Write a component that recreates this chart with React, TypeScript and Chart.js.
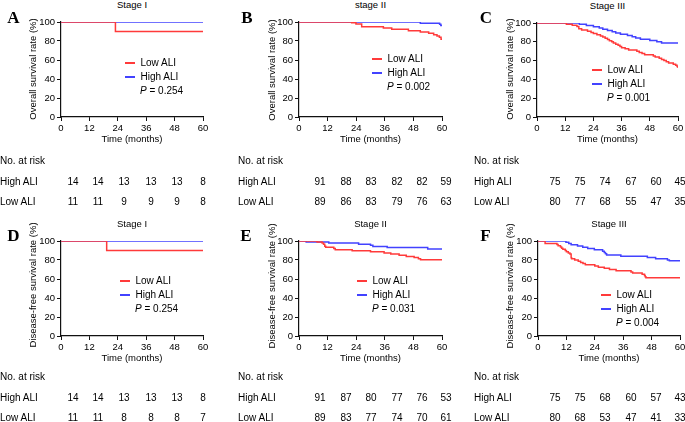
import React, { useEffect, useRef } from "react";
import { Chart, registerables } from "chart.js";

Chart.register(...registerables);

const FONT = "'Liberation Sans', Arial, Helvetica, sans-serif";
const TABLE_FONT = "'Liberation Sans Narrow', 'Liberation Sans', Arial, sans-serif";
const SERIF = "'Liberation Serif', 'Times New Roman', serif";
const RED = "#ff3a3a";
const BLUE = "#4242ff";

// ---- axis ticks ----
const monthTicks = [0, 12, 24, 36, 48, 60];
const rateTicks = [0, 20, 40, 60, 80, 100];
const riskLabels = ["No. at risk", "High ALI", "Low ALI"];

// ---- Kaplan–Meier steps: [month, survival %] ----
const osStageILow = [[0, 100], [23, 90], [60, 90]];
const osStageIHigh = [[0, 100], [60, 100]];

const osStageIILow = [[0, 100], [22.1, 99.3], [23.9, 97.9], [26.3, 95.0], [35.4, 93.7], [38.9, 92.3], [45.9, 90.9], [50.9, 89.5], [54.4, 88.1], [56.5, 86.7], [57.9, 85.3], [58.9, 83.9], [59.6, 81.8], [60, 81.8]];
const osStageIIHigh = [[0, 100], [50.9, 98.8], [59, 97.6], [59.5, 96.4], [60, 96.4]];

const osStageIIILow = [[0, 100], [12.5, 98.8], [15, 97.5], [17, 96.3], [17.8, 93.8], [19, 92.5], [21.5, 91.2], [23, 90], [24, 88.7], [25.5, 87.5], [27, 86.2], [28, 85], [29, 83.7], [30, 82.5], [30.8, 81.2], [31.8, 80], [32.5, 78.7], [33.5, 77.5], [34.5, 76.2], [35.3, 75], [36, 73.7], [37.5, 72.5], [39, 71.2], [42.5, 70], [43.5, 68.7], [44.7, 67.5], [45.8, 66.2], [49.5, 65], [50.3, 63.7], [52, 62.5], [53, 61.2], [54, 60], [55, 58.7], [56, 57.5], [58, 56.2], [59, 55], [59.6, 53.7], [60, 52.2]];
const osStageIIIHigh = [[0, 100], [18, 98.7], [21, 97.3], [24, 96.0], [26.5, 94.7], [28, 93.3], [30, 92.0], [32, 90.7], [33.5, 89.3], [35.5, 88.0], [38.5, 86.7], [40.5, 85.3], [42, 84.0], [44, 82.7], [48, 81.3], [51, 80.0], [53, 78.7], [60, 78.7]];

const dfsStageILow = [[0, 100], [19.3, 90], [60, 90]];
const dfsStageIHigh = [[0, 100], [60, 100]];

const dfsStageIILow = [[0, 100], [7.6, 98.9], [9.7, 97.8], [10.3, 96.6], [10.8, 94.4], [11.2, 93.3], [14.6, 92.1], [15.2, 90.9], [22.3, 89.8], [30, 88.6], [35.7, 87.4], [38.5, 86.2], [42, 85.0], [45, 83.8], [48.3, 82.6], [50.1, 81.4], [51, 80.3], [60, 80.3]];
const dfsStageIIHigh = [[0, 100], [3, 98.9], [12.5, 97.8], [25, 96.6], [30, 95.4], [31, 94.3], [37, 93.1], [54, 91.5], [60, 91.5]];

const dfsStageIIILow = [[0, 100], [3, 97.5], [8, 96.3], [8.5, 95.0], [9.5, 93.8], [10, 92.5], [10.5, 91.3], [11.5, 90.0], [12, 88.8], [12.8, 87.5], [13.5, 86.3], [14, 82.5], [14.2, 81.3], [15.5, 80.0], [17, 78.8], [18, 77.5], [19, 76.3], [20, 75.0], [24, 73.8], [25.5, 72.5], [28, 71.3], [30.2, 70.0], [33, 68.8], [39.3, 67.5], [40, 66.3], [44, 65.0], [45, 63.8], [45.3, 62.5], [45.6, 61.3], [60, 61.3]];
const dfsStageIIIHigh = [[0, 100], [11.8, 98.7], [13, 97.3], [14, 96.0], [16.7, 94.7], [18.9, 93.3], [21, 92.0], [23.8, 90.7], [27.3, 89.3], [28, 88.0], [28.5, 86.7], [29, 85.3], [35, 84.0], [46.2, 82.7], [49.7, 81.3], [54.7, 80.0], [55.5, 79.3], [60, 79.3]];

// ---- numbers at risk ----
const riskOsIHigh = [14, 14, 13, 13, 13, 8];
const riskOsILow = [11, 11, 9, 9, 9, 8];
const riskOsIIHigh = [91, 88, 83, 82, 82, 59];
const riskOsIILow = [89, 86, 83, 79, 76, 63];
const riskOsIIIHigh = [75, 75, 74, 67, 60, 45];
const riskOsIIILow = [80, 77, 68, 55, 47, 35];
const riskDfsIHigh = [14, 14, 13, 13, 13, 8];
const riskDfsILow = [11, 11, 8, 8, 8, 7];
const riskDfsIIHigh = [91, 87, 80, 77, 76, 53];
const riskDfsIILow = [89, 83, 77, 74, 70, 61];
const riskDfsIIIHigh = [75, 75, 68, 60, 57, 43];
const riskDfsIIILow = [80, 68, 53, 47, 41, 33];

// ---- p values / titles ----
const pValues = ["0.254", "0.002", "0.001", "0.254", "0.031", "0.004"];
const stageTitles = ["Stage I", "stage II", "Stage III", "Stage I", "Stage II", "Stage III"];
const letters = ["A", "B", "C", "D", "E", "F"];
const yTitles = ["Overall survival rate (%)", "Disease-free survival rate (%)"];

// ---- layout ----
const YW = 40, PT = 8, PR = 10, XH = 30;

type Panel = {
  x0: number; y0: number; w: number; h: number;
  letterX: number; letterY: number;
  legX: number; legY: number;
  yTitleX: number; yTitleY: number;
  tblX: number; tblY: number; cols: number[];
  low: number[][]; high: number[][];
  riskHigh: number[]; riskLow: number[];
  yTitle: string; title: string; letter: string; p: string;
};

const colsA = [73, 98, 124, 151, 177, 203];
const colsB = [320, 346, 371, 397, 422, 446];
const colsC = [555, 580, 605, 631, 656, 680];

const panels: Panel[] = [
  { x0: 61, y0: 22, w: 142, h: 95, letterX: 13.5, letterY: 17, legX: 125, legY: 63, yTitleX: 33, yTitleY: 69, tblX: 0, tblY: 161, cols: colsA,
    low: osStageILow, high: osStageIHigh, riskHigh: riskOsIHigh, riskLow: riskOsILow, yTitle: yTitles[0], title: stageTitles[0], letter: letters[0], p: pValues[0] },
  { x0: 299, y0: 22, w: 143, h: 95, letterX: 247, letterY: 17, legX: 372, legY: 59, yTitleX: 271.7, yTitleY: 69.5, tblX: 238, tblY: 161, cols: colsB,
    low: osStageIILow, high: osStageIIHigh, riskHigh: riskOsIIHigh, riskLow: riskOsIILow, yTitle: yTitles[0], title: stageTitles[1], letter: letters[1], p: pValues[1] },
  { x0: 537, y0: 23, w: 141, h: 94, letterX: 486, letterY: 16.5, legX: 592, legY: 70, yTitleX: 510, yTitleY: 69, tblX: 474, tblY: 161, cols: colsC,
    low: osStageIIILow, high: osStageIIIHigh, riskHigh: riskOsIIIHigh, riskLow: riskOsIIILow, yTitle: yTitles[0], title: stageTitles[2], letter: letters[2], p: pValues[2] },
  { x0: 61, y0: 241, w: 142, h: 95, letterX: 13.5, letterY: 235, legX: 120, legY: 281, yTitleX: 33.3, yTitleY: 285, tblX: 0, tblY: 377, cols: colsA,
    low: dfsStageILow, high: dfsStageIHigh, riskHigh: riskDfsIHigh, riskLow: riskDfsILow, yTitle: yTitles[1], title: stageTitles[3], letter: letters[3], p: pValues[3] },
  { x0: 299, y0: 241, w: 143, h: 95, letterX: 246, letterY: 235, legX: 357, legY: 281, yTitleX: 271.7, yTitleY: 285.5, tblX: 238, tblY: 377, cols: colsB,
    low: dfsStageIILow, high: dfsStageIIHigh, riskHigh: riskDfsIIHigh, riskLow: riskDfsIILow, yTitle: yTitles[1], title: stageTitles[4], letter: letters[4], p: pValues[4] },
  { x0: 538, y0: 241, w: 142, h: 95, letterX: 485.5, letterY: 235, legX: 601, legY: 295, yTitleX: 510, yTitleY: 285.5, tblX: 474, tblY: 377, cols: colsC,
    low: dfsStageIIILow, high: dfsStageIIIHigh, riskHigh: riskDfsIIIHigh, riskLow: riskDfsIIILow, yTitle: yTitles[1], title: stageTitles[5], letter: letters[5], p: pValues[5] },
];

const abs = (x: number, y: number, style: React.CSSProperties = {}, anchor: "c" | "l" = "c"): React.CSSProperties => ({
  position: "absolute",
  left: x,
  top: y,
  transform: anchor === "c" ? "translate(-50%, -50%)" : "translate(0, -50%)",
  whiteSpace: "nowrap",
  lineHeight: 1,
  color: "#000",
  fontFamily: FONT,
  ...style,
});

function KMChart({ p }: { p: Panel }) {
  const ref = useRef<HTMLCanvasElement | null>(null);
  const cw = YW + p.w + PR;
  const ch = PT + p.h + XH;
  useEffect(() => {
    if (!ref.current) return;
    const axisCommon = {
      type: "linear" as const,
      grid: { drawOnChartArea: false, drawTicks: true, tickLength: 4, color: "#111", lineWidth: 1 },
      border: { display: true, color: "#111", width: 1.2 },
    };
    const chart = new Chart(ref.current, {
      type: "line",
      data: {
        datasets: [
          { label: "Low ALI", data: p.low.map(([x, y]) => ({ x, y })), borderColor: RED, borderWidth: 1.5, pointRadius: 0, stepped: "before", fill: false },
          { label: "High ALI", data: p.high.map(([x, y]) => ({ x, y })), borderColor: BLUE, borderWidth: 1.5, pointRadius: 0, stepped: "before", fill: false },
        ],
      },
      options: {
        responsive: false,
        animation: false,
        layout: { padding: { top: PT, right: PR, left: 0, bottom: 0 } },
        plugins: { legend: { display: false }, tooltip: { enabled: false }, title: { display: false } },
        scales: {
          x: {
            ...axisCommon,
            min: 0, max: 60,
            afterBuildTicks: (s: any) => { s.ticks = monthTicks.map((v) => ({ value: v })); },
            afterFit: (s: any) => { s.height = XH; },
            ticks: { color: "#000", font: { family: FONT, size: 9.5 }, padding: 2, maxRotation: 0, autoSkip: false },
            title: { display: true, text: "Time (months)", color: "#000", font: { family: FONT, size: 9.5 }, padding: { top: 0, bottom: 2.3 } },
          },
          y: {
            ...axisCommon,
            min: 0, max: 100,
            afterBuildTicks: (s: any) => { s.ticks = rateTicks.map((v) => ({ value: v })); },
            afterFit: (s: any) => { s.width = YW; },
            ticks: { color: "#000", font: { family: FONT, size: 9.5 }, padding: 2, autoSkip: false },
            title: { display: false },
          },
        },
      } as any,
    });
    return () => chart.destroy();
  }, [p]);
  return (
    <canvas
      ref={ref}
      width={cw}
      height={ch}
      style={{ position: "absolute", left: p.x0 - YW, top: p.y0 - PT, width: cw, height: ch }}
    />
  );
}

function PanelView({ p }: { p: Panel }) {
  const tx = p.legX + 15.5;
  const tStyle = { fontSize: 10, fontFamily: TABLE_FONT };
  return (
    <>
      <KMChart p={p} />
      <div
        style={{
          position: "absolute",
          left: p.yTitleX,
          top: p.yTitleY,
          transform: "translate(-50%, -50%) rotate(-90deg)",
          whiteSpace: "nowrap",
          lineHeight: 1,
          fontFamily: FONT,
          fontSize: 9.5,
          color: "#000",
        }}
      >
        {p.yTitle}
      </div>
      <div style={abs(p.letterX, p.letterY, { fontFamily: SERIF, fontWeight: "bold", fontSize: 17 })}>{p.letter}</div>
      <div style={abs(p.x0 + p.w / 2, p.y0 - 17, { fontSize: 9.5 })}>{p.title}</div>
      <div style={{ position: "absolute", left: p.legX, top: p.legY - 1, width: 10, height: 1.5, background: RED }} />
      <div style={abs(tx, p.legY, { fontSize: 10 }, "l")}>Low ALI</div>
      <div style={{ position: "absolute", left: p.legX, top: p.legY + 13, width: 10, height: 1.5, background: BLUE }} />
      <div style={abs(tx, p.legY + 14, { fontSize: 10 }, "l")}>High ALI</div>
      <div style={abs(tx - 0.5, p.legY + 28, { fontSize: 10 }, "l")}><i>P</i> = {p.p}</div>
      <div style={abs(p.tblX, p.tblY, tStyle, "l")}>{riskLabels[0]}</div>
      <div style={abs(p.tblX, p.tblY + 20.5, tStyle, "l")}>{riskLabels[1]}</div>
      <div style={abs(p.tblX, p.tblY + 40.5, tStyle, "l")}>{riskLabels[2]}</div>
      {p.riskHigh.map((v, i) => (
        <div key={"h" + i} style={abs(p.cols[i], p.tblY + 20.5, tStyle)}>{v}</div>
      ))}
      {p.riskLow.map((v, i) => (
        <div key={"l" + i} style={abs(p.cols[i], p.tblY + 40.5, tStyle)}>{v}</div>
      ))}
    </>
  );
}

export default function App() {
  return (
    <div style={{ position: "absolute", left: 0, top: 0, width: 685, height: 422, overflow: "hidden", background: "#fff" }}>
      {panels.map((p, i) => (
        <PanelView key={i} p={p} />
      ))}
    </div>
  );
}
